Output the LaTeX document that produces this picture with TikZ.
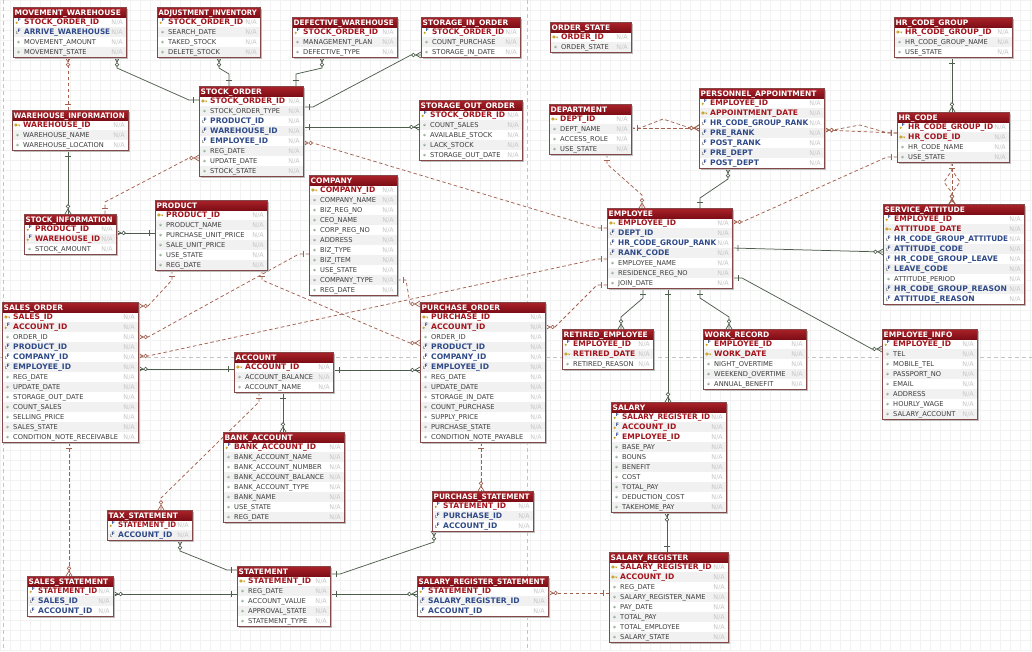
\documentclass[tikz,border=0pt]{standalone}
\usepackage{fontspec}
\usepackage{graphicx}
\setmainfont{DejaVu Sans}
\usetikzlibrary{calc,decorations.markings}

\definecolor{hdrtopc}{HTML}{AC2229}
\definecolor{hdrbotc}{HTML}{7E0E16}
\definecolor{pkredc}{HTML}{A3141C}
\definecolor{fkbluec}{HTML}{2F4A88}
\definecolor{plainc}{HTML}{3C3C3C}
\definecolor{nagrayc}{HTML}{C6C6C6}
\definecolor{rowaltc}{HTML}{F1F1F1}
\definecolor{boxlinec}{HTML}{854848}
\definecolor{shadowc}{HTML}{BDBDBD}
\definecolor{solidrelc}{HTML}{4E5E4C}
\definecolor{dashrelc}{HTML}{A3604F}
\definecolor{gridc}{HTML}{F2F2F2}
\definecolor{pagec}{HTML}{C4C4C4}
\definecolor{keygoldc}{HTML}{C9A227}
\definecolor{dotgreenc}{HTML}{8FAA8C}

\pgfdeclarelayer{bgl}
\pgfdeclarelayer{links}
\pgfsetlayers{bgl,links,main}

\tikzset{
  erbox/.style={fill=white, inner sep=0pt, outer sep=0pt, draw=none},
  boxborder/.style={draw=boxlinec, line width=0.8pt},
  hdrtext/.style={text=white, font=\bfseries\fontsize{7.5}{8}\selectfont, inner sep=0pt},
  rowp/.style={text=pkredc, font=\bfseries\fontsize{7.6}{8}\selectfont, inner sep=0pt},
  rowpf/.style={rowp},
  rowf/.style={text=fkbluec, font=\bfseries\fontsize{7.6}{8}\selectfont, inner sep=0pt},
  rown/.style={text=plainc, font=\fontsize{6.7}{8}\selectfont, inner sep=0pt},
  natext/.style={text=nagrayc, font=\fontsize{6.4}{8}\selectfont, inner sep=0pt},
  pics/iconn/.style={code={\fill[dotgreenc] (0,0) circle (1.4pt);
      \fill[white] (-0.4,-0.4) circle (0.45pt);}},
  pics/iconp/.style={code={\draw[keygoldc, line width=0.9pt]
      (-1.6,0) circle (1.1pt) (-0.5,0) -- (2.6,0) (1.8,0) -- (1.8,1.2);}},
  pics/iconf/.style={code={\draw[gray!70, line width=0.5pt] (-2.2,-1.5) -- (-2.2,1.6) -- (-0.3,1.6);
      \node[text=fkbluec, font=\bfseries\fontsize{4.6}{5}\selectfont, inner sep=0pt] at (0.8,-1.6) {F};}},
  pics/iconpf/.style={code={\fill[keygoldc] (-1.8,0.8) circle (1.2pt);
      \node[text=fkbluec, font=\bfseries\fontsize{4.6}{5}\selectfont, inner sep=0pt] at (0.9,-1.8) {F};}},
  lnk/.style={line width=0.75pt, color=solidrelc},
  dlnk/.style={line width=0.75pt, color=dashrelc, dash pattern=on 3.5pt off 2.5pt},
  oneA/.style={postaction={decorate, decoration={markings, mark=at position 0 with
      {\draw[solid, line width=0.75pt] (6pt,-3pt) -- (6pt,3pt);}}}},
  oneB/.style={postaction={decorate, decoration={markings, mark=at position 1 with
      {\draw[solid, line width=0.75pt] (-6pt,-3pt) -- (-6pt,3pt);}}}},
  manyA/.style={postaction={decorate, decoration={markings, mark=at position 0 with
      {\draw[solid, line width=0.75pt] (0pt,3pt) -- (5pt,0pt) -- (0pt,-3pt);
       \filldraw[solid, fill=white, line width=0.6pt] (7.6pt,0pt) circle (1.8pt);}}}},
  manyB/.style={postaction={decorate, decoration={markings, mark=at position 1 with
      {\draw[solid, line width=0.75pt] (0pt,3pt) -- (-5pt,0pt) -- (0pt,-3pt);
       \filldraw[solid, fill=white, line width=0.6pt] (-7.6pt,0pt) circle (1.8pt);}}}},
  pageline/.style={draw=pagec, line width=0.6pt, dash pattern=on 4pt off 3pt},
}

% squeeze a column name horizontally when it is wider than its cell
\newlength\erwd
\newcommand{\erfit}[2]{%
  \settowidth\erwd{#2}%
  \ifdim\erwd>#1pt\resizebox{#1pt}{\height}{#2}\else#2\fi}

% #1 node name, #2 left, #3 top, #4 width, #5 number of rows, #6 title, #7 rows (kind/name)
\newcommand{\ertable}[7]{%
  \pgfmathsetmacro\erav{#4-27}%
  \pgfmathsetmacro\erhv{#4-5}%
  \fill[shadowc] (#2+2,#3+2) rectangle ++(#4,10+10*#5);
  \node[erbox, minimum width=#4pt, minimum height={10pt+10pt*#5}, anchor=north west] (#1) at (#2,#3) {};
  \foreach \ty/\tx [count=\i] in {#7}{%
    \pgfmathsetmacro\ry{#3+10*\i}
    \ifodd\i\else \fill[rowaltc] (#2,\ry) rectangle ++(#4,10);\fi
    \pic at (#2+5.5,\ry+5) {icon\ty};
    \node[natext, anchor=base east] at (#2+#4-3,\ry+7.6) {N/A};
    \node[row\ty, anchor=base west] at (#2+11,\ry+7.8) {\erfit{\erav}{\tx}};
  }
  \shade[top color=hdrtopc, bottom color=hdrbotc] (#2,#3) rectangle ++(#4,10);
  \node[hdrtext, anchor=base west] at (#2+1.5,#3+8.1) {\erfit{\erhv}{#6}};
  \draw[boxborder] (#1.north west) rectangle (#1.south east);
}

\begin{document}
\catcode`\_=12
\begin{tikzpicture}[x=1pt,y=-1pt]
\useasboundingbox (0,0) rectangle (1032,651);
\begin{pgfonlayer}{bgl}
  \fill[white] (0,0) rectangle (1032,651);
  \draw[gridc, line width=0.35pt, step=10pt] (0,0) grid (1032,651);
  % page boundaries
  \draw[pageline] (3,0) -- (3,651);
  \draw[pageline] (527,0) -- (527,651);
  \draw[pageline] (0,357) -- (1032,357);
\end{pgfonlayer}

% ---------- stock and warehouse ----------
\ertable{mw}{13}{7}{113}{4}{MOVEMENT_WAREHOUSE}{pf/STOCK_ORDER_ID, f/ARRIVE_WAREHOUSE, n/MOVEMENT_AMOUNT, n/MOVEMENT_STATE}
\ertable{adj}{157}{7}{103}{4}{ADJUSTMENT_INVENTORY}{pf/STOCK_ORDER_ID, n/SEARCH_DATE, n/TAKED_STOCK, n/DELETE_STOCK}
\ertable{dw}{292}{17}{105}{3}{DEFECTIVE_WAREHOUSE}{pf/STOCK_ORDER_ID, n/MANAGEMENT_PLAN, n/DEFECTIVE_TYPE}
\ertable{sio}{421}{17}{99}{3}{STORAGE_IN_ORDER}{pf/STOCK_ORDER_ID, n/COUNT_PURCHASE, n/STORAGE_IN_DATE}
\ertable{so}{199}{86}{104}{8}{STOCK_ORDER}{p/STOCK_ORDER_ID, n/STOCK_ORDER_TYPE, f/PRODUCT_ID, f/WAREHOUSE_ID, f/EMPLOYEE_ID, n/REG_DATE, n/UPDATE_DATE, n/STOCK_STATE}
\ertable{soo}{419}{100}{103}{5}{STORAGE_OUT_ORDER}{pf/STOCK_ORDER_ID, n/COUNT_SALES, n/AVAILABLE_STOCK, n/LACK_STOCK, n/STORAGE_OUT_DATE}
\ertable{wi}{12}{110}{116}{3}{WAREHOUSE_INFORMATION}{p/WAREHOUSE_ID, n/WAREHOUSE_NAME, n/WAREHOUSE_LOCATION}
\ertable{si}{24}{214}{92}{3}{STOCK_INFORMATION}{pf/PRODUCT_ID, pf/WAREHOUSE_ID, n/STOCK_AMOUNT}
\ertable{prod}{155}{200}{112}{6}{PRODUCT}{p/PRODUCT_ID, n/PRODUCT_NAME, n/PURCHASE_UNIT_PRICE, n/SALE_UNIT_PRICE, n/USE_STATE, n/REG_DATE}
\ertable{comp}{309}{175}{88}{11}{COMPANY}{p/COMPANY_ID, n/COMPANY_NAME, n/BIZ_REG_NO, n/CEO_NAME, n/CORP_REG_NO, n/ADDRESS, n/BIZ_TYPE, n/BIZ_ITEM, n/USE_STATE, n/COMPANY_TYPE, n/REG_DATE}

% ---------- orders, accounts, statements ----------
\ertable{sales}{2}{302}{136}{13}{SALES_ORDER}{p/SALES_ID, pf/ACCOUNT_ID, n/ORDER_ID, f/PRODUCT_ID, f/COMPANY_ID, f/EMPLOYEE_ID, n/REG_DATE, n/UPDATE_DATE, n/STORAGE_OUT_DATE, n/COUNT_SALES, n/SELLING_PRICE, n/SALES_STATE, n/CONDITION_NOTE_RECEIVABLE}
\ertable{acc}{234}{352}{99}{3}{ACCOUNT}{p/ACCOUNT_ID, n/ACCOUNT_BALANCE, n/ACCOUNT_NAME}
\ertable{po}{420}{302}{125}{13}{PURCHASE_ORDER}{p/PURCHASE_ID, pf/ACCOUNT_ID, n/ORDER_ID, f/PRODUCT_ID, f/COMPANY_ID, f/EMPLOYEE_ID, n/REG_DATE, n/UPDATE_DATE, n/STORAGE_IN_DATE, n/COUNT_PURCHASE, n/SUPPLY_PRICE, n/PURCHASE_STATE, n/CONDITION_NOTE_PAYABLE}
\ertable{bank}{223}{432}{121}{8}{BANK_ACCOUNT}{pf/BANK_ACCOUNT_ID, n/BANK_ACCOUNT_NAME, n/BANK_ACCOUNT_NUMBER, n/BANK_ACCOUNT_BALANCE, n/BANK_ACCOUNT_TYPE, n/BANK_NAME, n/USE_STATE, n/REG_DATE}
\ertable{tax}{107}{510}{85}{2}{TAX_STATEMENT}{pf/STATEMENT_ID, f/ACCOUNT_ID}
\ertable{ss}{27}{576}{86}{3}{SALES_STATEMENT}{pf/STATEMENT_ID, f/SALES_ID, f/ACCOUNT_ID}
\ertable{st}{237}{566}{93}{5}{STATEMENT}{p/STATEMENT_ID, n/REG_DATE, n/ACCOUNT_VALUE, n/APPROVAL_STATE, n/STATEMENT_TYPE}
\ertable{ps}{432}{491}{101}{3}{PURCHASE_STATEMENT}{pf/STATEMENT_ID, f/PURCHASE_ID, f/ACCOUNT_ID}
\ertable{srs}{417}{576}{131}{3}{SALARY_REGISTER_STATEMENT}{pf/STATEMENT_ID, f/SALARY_REGISTER_ID, f/ACCOUNT_ID}

% ---------- personnel ----------
\ertable{ost}{550}{22}{81}{2}{ORDER_STATE}{p/ORDER_ID, n/ORDER_STATE}
\ertable{dept}{549}{104}{82}{4}{DEPARTMENT}{p/DEPT_ID, n/DEPT_NAME, n/ACCESS_ROLE, n/USE_STATE}
\ertable{pa}{699}{88}{125}{7}{PERSONNEL_APPOINTMENT}{pf/EMPLOYEE_ID, p/APPOINTMENT_DATE, f/HR_CODE_GROUP_RANK, f/PRE_RANK, f/POST_RANK, f/PRE_DEPT, f/POST_DEPT}
\ertable{hrg}{894}{17}{118}{3}{HR_CODE_GROUP}{p/HR_CODE_GROUP_ID, n/HR_CODE_GROUP_NAME, n/USE_STATE}
\ertable{hr}{897}{112}{112}{4}{HR_CODE}{pf/HR_CODE_GROUP_ID, p/HR_CODE_ID, n/HR_CODE_NAME, n/USE_STATE}
\ertable{sa}{883}{204}{141}{9}{SERVICE_ATTITUDE}{pf/EMPLOYEE_ID, p/ATTITUDE_DATE, f/HR_CODE_GROUP_ATTITUDE, f/ATTITUDE_CODE, f/HR_CODE_GROUP_LEAVE, f/LEAVE_CODE, n/ATTITUDE_PERIOD, f/HR_CODE_GROUP_REASON, f/ATTITUDE_REASON}
\ertable{emp}{607}{208}{125}{7}{EMPLOYEE}{p/EMPLOYEE_ID, f/DEPT_ID, f/HR_CODE_GROUP_RANK, f/RANK_CODE, n/EMPLOYEE_NAME, n/RESIDENCE_REG_NO, n/JOIN_DATE}
\ertable{ret}{562}{329}{91}{3}{RETIRED_EMPLOYEE}{pf/EMPLOYEE_ID, p/RETIRED_DATE, n/RETIRED_REASON}
\ertable{wr}{703}{329}{103}{5}{WORK_RECORD}{pf/EMPLOYEE_ID, p/WORK_DATE, n/NIGHT_OVERTIME, n/WEEKEND_OVERTIME, n/ANNUAL_BENEFIT}
\ertable{einfo}{882}{329}{95}{8}{EMPLOYEE_INFO}{pf/EMPLOYEE_ID, n/TEL, n/MOBILE_TEL, n/PASSPORT_NO, n/EMAIL, n/ADDRESS, n/HOURLY_WAGE, n/SALARY_ACCOUNT}
\ertable{sal}{611}{402}{115}{10}{SALARY}{pf/SALARY_REGISTER_ID, pf/ACCOUNT_ID, pf/EMPLOYEE_ID, n/BASE_PAY, n/BOUNS, n/BENEFIT, n/COST, n/TOTAL_PAY, n/DEDUCTION_COST, n/TAKEHOME_PAY}
\ertable{sreg}{609}{552}{119}{8}{SALARY_REGISTER}{p/SALARY_REGISTER_ID, p/ACCOUNT_ID, n/REG_DATE, n/SALARY_REGISTER_NAME, n/PAY_DATE, n/TOTAL_PAY, n/TOTAL_EMPLOYEE, n/SALARY_STATE}

% ---------- relationships ----------
\begin{pgfonlayer}{links}
% stock and warehouse
\draw[dlnk, oneA, manyB] ($(wi.north west)+(56,0)$) -- ($(mw.south west)+(55,0)$);
\draw[lnk, oneA, manyB] ($(so.north west)+(0,14)$) -- ++(-10,0) -- ($(mw.south west)+(104,11)$) -- ($(mw.south west)+(104,0)$);
\draw[lnk, oneA, manyB] ($(so.north west)+(30,0)$) -- ++(0,-12) -- ($(adj.south west)+(62,11)$) -- ($(adj.south west)+(62,0)$);
\draw[lnk, oneA, manyB] ($(so.north west)+(97,0)$) -- ++(0,-12) -- ($(dw.south west)+(30,11)$) -- ($(dw.south west)+(30,0)$);
\draw[lnk, oneA, manyB] ($(so.north east)+(0,21)$) -- ++(10,0) -- ($(sio.north west)+(-10,38)$) -- ($(sio.north west)+(0,38)$);
\draw[lnk, oneA, manyB] ($(so.north east)+(0,41)$) -- ($(soo.north west)+(0,27)$);
\draw[dlnk, oneA, manyB] ($(emp.north west)+(0,20)$) -- ++(-10,0) -- ($(so.north east)+(10,57)$) -- ($(so.north east)+(0,57)$);
\draw[lnk, oneA, manyB] ($(wi.south west)+(56,0)$) -- ($(si.north west)+(44,0)$);
\draw[dlnk, oneA, manyB] ($(si.north west)+(81,0)$) -- ++(0,-12) -- ($(so.north west)+(-10,72)$) -- ($(so.north west)+(0,72)$);
\draw[lnk, oneA, manyB] ($(prod.north west)+(0,33)$) -- ($(si.north east)+(0,19)$);
% sales order
\draw[dlnk, oneA, manyB] ($(prod.south west)+(17,0)$) -- ++(0,10) -- ($(sales.north east)+(10,4)$) -- ($(sales.north east)+(0,4)$);
\draw[dlnk, oneA, manyB] ($(comp.north west)+(0,79)$) -- ++(-10,0) -- ($(sales.north east)+(10,35)$) -- ($(sales.north east)+(0,35)$);
\draw[dlnk, oneA, manyB] ($(emp.north west)+(0,51)$) -- ++(-10,0) -- ($(sales.north east)+(10,54)$) -- ($(sales.north east)+(0,54)$);
\draw[lnk, oneA, manyB] ($(acc.north west)+(0,17)$) -- ($(sales.north east)+(0,67)$);
% purchase order
\draw[dlnk, oneA, manyB] ($(comp.north east)+(0,105)$) -- ++(9,0) -- ($(po.north west)+(-10,2)$) -- ($(po.north west)+(0,2)$);
\draw[dlnk, oneA, manyB] ($(prod.south east)+(-5,0)$) -- ++(0,10) -- ($(po.north west)+(-10,41)$) -- ($(po.north west)+(0,41)$);
\draw[lnk, oneA, manyB] ($(acc.north east)+(0,18)$) -- ($(po.north west)+(0,68)$);
\draw[dlnk, oneA, manyB] ($(emp.north west)+(0,77)$) -- ++(-10,0) -- ($(po.north east)+(10,25)$) -- ($(po.north east)+(0,25)$);
\draw[dlnk, oneA, manyB] ($(po.south west)+(61,0)$) -- ($(ps.north west)+(49,0)$);
% accounts and statements
\draw[dlnk, oneA, manyB] ($(sales.south west)+(67,0)$) -- ($(ss.north west)+(42,0)$);
\draw[lnk, oneA, manyB] ($(acc.south west)+(49,0)$) -- ($(bank.north west)+(60,0)$);
\draw[dlnk, oneA, manyB] ($(acc.south west)+(25,0)$) -- ++(0,10) -- ($(tax.north west)+(54,-12)$) -- ($(tax.north west)+(54,0)$);
\draw[lnk, oneA, manyB] ($(st.north west)+(0,4)$) -- ++(-10,0) -- ($(tax.south west)+(73,11)$) -- ($(tax.south west)+(73,0)$);
\draw[lnk, oneA, manyB] ($(st.north west)+(0,28)$) -- ($(ss.north east)+(0,18)$);
\draw[lnk, oneA, manyB] ($(st.north east)+(0,8)$) -- ++(10,0) -- ($(ps.south west)+(2,11)$) -- ($(ps.south west)+(2,0)$);
\draw[lnk, oneA, manyB] ($(st.north east)+(0,28)$) -- ($(srs.north west)+(0,18)$);
\draw[dlnk, oneA, manyB] ($(sreg.north west)+(0,41)$) -- ($(srs.north east)+(0,17)$);
\draw[lnk, oneA, manyB] ($(sreg.north west)+(58,0)$) -- ($(sal.south west)+(56,0)$);
% employee
\draw[lnk, oneA, manyB] ($(emp.south west)+(36,0)$) -- ++(0,10) -- ($(ret.north west)+(59,-12)$) -- ($(ret.north west)+(59,0)$);
\draw[lnk, oneA, manyB] ($(emp.south west)+(61,0)$) -- ($(sal.north west)+(57,0)$);
\draw[lnk, oneA, manyB] ($(emp.south west)+(93,0)$) -- ++(0,10) -- ($(wr.north west)+(26,-12)$) -- ($(wr.north west)+(26,0)$);
\draw[lnk, oneA, manyB] ($(emp.north east)+(0,40)$) -- ($(sa.north west)+(0,48)$);
\draw[lnk, oneA, manyB] ($(emp.north east)+(0,70)$) -- ++(10,0) -- ($(einfo.north west)+(-10,20)$) -- ($(einfo.north west)+(0,20)$);
\draw[dlnk, oneA, manyB] ($(hr.north west)+(0,45)$) -- ++(-10,0) -- ($(emp.north east)+(10,14)$) -- ($(emp.north east)+(0,14)$);
\draw[dlnk, oneA, manyB] ($(dept.south west)+(58,0)$) -- ++(0,10) -- ($(emp.north west)+(35,-13)$) -- ($(emp.north west)+(35,0)$);
\draw[lnk, oneA, manyB] ($(emp.north west)+(93,0)$) -- ++(0,-10) -- ($(pa.south west)+(29,11)$) -- ($(pa.south west)+(29,0)$);
% appointments and HR codes
\draw[dlnk, oneA, manyB] ($(dept.north east)+(0,24)$) -- ($(pa.north west)+(0,40)$);
\draw[dlnk, oneA, manyB] ($(dept.north east)+(0,24)$) -- ++(9,0) -- ($(dept.north east)+(32,15)$) -- ($(pa.north west)+(-9,40)$) -- ($(pa.north west)+(0,40)$);
\draw[dlnk, oneA, manyB] ($(hr.north west)+(0,21)$) -- ($(pa.north east)+(0,42)$);
\draw[dlnk, oneA, manyB] ($(hr.north west)+(0,21)$) -- ++(-9,0) -- ($(pa.north east)+(36,37)$) -- ($(pa.north east)+(9,42)$) -- ($(pa.north east)+(0,42)$);
\draw[lnk, oneA, manyB] ($(hrg.south west)+(58,0)$) -- ($(hr.north west)+(55,0)$);
\draw[dlnk, oneA, manyB] ($(hr.south west)+(55,0)$) -- ($(sa.north west)+(69,0)$);
\draw[dlnk, oneA, manyB] ($(hr.south west)+(55,0)$) -- ++(0,8) -- ++(-8,12) -- ($(sa.north west)+(69,-11)$) -- ($(sa.north west)+(69,0)$);
\draw[dlnk, oneA, manyB] ($(hr.south west)+(55,0)$) -- ++(0,8) -- ++(8,12) -- ($(sa.north west)+(69,-11)$) -- ($(sa.north west)+(69,0)$);
\end{pgfonlayer}
\end{tikzpicture}
\end{document}
